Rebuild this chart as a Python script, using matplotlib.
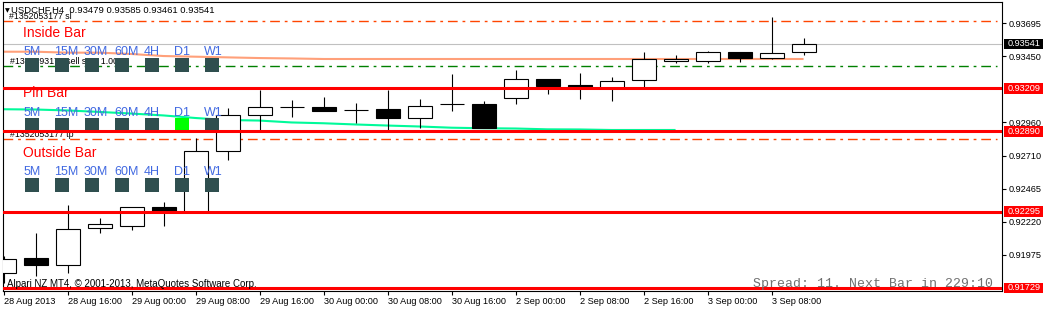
import matplotlib
matplotlib.use('Agg')
import matplotlib.pyplot as plt
import matplotlib.transforms as mtransforms
from matplotlib.patches import Rectangle

plt.rcParams['lines.scale_dashes'] = False

W, H = 1045, 309

# ---------------- data (USDCHF H4) ----------------
opens  = [0.91840, 0.91951, 0.91899, 0.92174, 0.92189, 0.92330, 0.92296, 0.92745,
          0.93012, 0.93069, 0.93069, 0.93052, 0.93057, 0.92988, 0.93092, 0.93094,
          0.93136, 0.93279, 0.93235, 0.93215, 0.93270, 0.93415, 0.93415, 0.93478,
          0.93435, 0.93479]
highs  = [0.91966, 0.92137, 0.92345, 0.92248, 0.92333, 0.92367, 0.92842, 0.93064,
          0.93198, 0.93124, 0.93146, 0.93099, 0.93198, 0.93131, 0.93317, 0.93116,
          0.93346, 0.93279, 0.93324, 0.93294, 0.93480, 0.93458, 0.93489, 0.93478,
          0.93737, 0.93585]
lows   = [0.91766, 0.91818, 0.91840, 0.92137, 0.92159, 0.92189, 0.92290, 0.92678,
          0.92901, 0.93000, 0.93044, 0.92955, 0.92897, 0.92916, 0.93044, 0.92916,
          0.93092, 0.93170, 0.93131, 0.93118, 0.93220, 0.93396, 0.93396, 0.93408,
          0.93430, 0.93461]
closes = [0.91944, 0.91899, 0.92166, 0.92204, 0.92330, 0.92300, 0.92745, 0.93012,
          0.93075, 0.93068, 0.93044, 0.93051, 0.92988, 0.93077, 0.93091, 0.92916,
          0.93277, 0.93230, 0.93213, 0.93265, 0.93426, 0.93426, 0.93478, 0.93435,
          0.93470, 0.93541]

salmon_line = [0.93482, 0.93482, 0.93475, 0.93475, 0.93465, 0.93450, 0.93445, 0.93440,
               0.93435, 0.93432, 0.93428, 0.93428, 0.93428, 0.93428, 0.93428, 0.93428,
               0.93428, 0.93428, 0.93428, 0.93428, 0.93428, 0.93428, 0.93428, 0.93428,
               0.93428, 0.93428]
green_line = [0.93055, 0.93053, 0.93046, 0.93035, 0.93023, 0.93009, 0.92990, 0.92975,
              0.92971, 0.92957, 0.92951, 0.92942, 0.92934, 0.92927, 0.92918, 0.92914,
              0.92912, 0.92906, 0.92905, 0.92901, 0.92901, 0.92901]

x_tick_bars = [0, 2, 4, 6, 8, 10, 12, 14, 16, 18, 20, 22, 24]
x_tick_labels = ['28 Aug 2013', '28 Aug 16:00', '29 Aug 00:00', '29 Aug 08:00',
                 '29 Aug 16:00', '30 Aug 00:00', '30 Aug 08:00', '30 Aug 16:00',
                 '2 Sep 00:00', '2 Sep 08:00', '2 Sep 16:00', '3 Sep 00:00',
                 '3 Sep 08:00']
y_ticks = [0.93695, 0.93450, 0.92960, 0.92710, 0.92465, 0.92220, 0.91975]

red_levels = [0.93209, 0.92890, 0.92295, 0.91729]
bid_price = 0.93541
sl_level = 0.93710
entry_level = 0.93374
tp_level = 0.92832

timeframes = ['5M', '15M', '30M', '60M', '4H', 'D1', 'W1']
pattern_names = ['Inside Bar', 'Pin Bar', 'Outside Bar']
pattern_signals = [[0, 0, 0, 0, 0, 0, 0],
                   [0, 0, 0, 0, 0, 1, 0],
                   [0, 0, 0, 0, 0, 0, 0]]

order_labels = ['#1352053177 sl', '#1352493177 sell stop 1.00', '#1352053177 tp']
copyright_text = 'Alpari NZ MT4, \u00a9 2001-2013, MetaQuotes Software Corp.'
spread_text = 'Spread: 11. Next Bar in 229:10'

# ---------------- figure ----------------
fig = plt.figure(figsize=(W / 100, H / 100), dpi=100)
fig.patch.set_facecolor('white')
ax = fig.add_axes([3 / W, 18 / H, 999 / W, 289 / H])
ax.set_facecolor('white')
ax.set_xlim(-0.016, 31.2)
ax.set_ylim(0.91706, 0.93851)

FONT = 'Liberation Sans'
px = mtransforms.Affine2D().scale(1, -1).translate(0, H)  # pixel coords, y from top

# horizontal lines
ax.axhline(bid_price, color='#C0C0C0', lw=0.8, zorder=1)
ax.axhline(sl_level, xmin=0, xmax=0.995, color='#FF4500', lw=1.0,
           dashes=(7, 3.5, 2, 3.5), zorder=1.5)
ax.axhline(tp_level, xmin=0, xmax=0.995, color='#FF4500', lw=1.0,
           dashes=(7, 3.5, 2, 3.5), zorder=1.5)
ax.axhline(entry_level, xmin=0, xmax=0.995, color='#008000', lw=1.0,
           dashes=(7, 3.5, 2, 3.5), zorder=1.5)

# indicator lines
ax.plot(range(len(salmon_line)), salmon_line, color='#FFA07A', lw=1.5, zorder=2,
        solid_capstyle='butt')
ax.plot(range(len(green_line)), green_line, color='#00FA9A', lw=1.5, zorder=2,
        solid_capstyle='butt')

# candles
bw = 0.75
for i, (o, h, l, c) in enumerate(zip(opens, highs, lows, closes)):
    ax.vlines(i, l, h, color='black', lw=0.8, zorder=3)
    lo, hi = min(o, c), max(o, c)
    if hi - lo < 0.00002:
        ax.hlines(o, i - bw / 2, i + bw / 2, color='black', lw=0.8, zorder=3.1)
    else:
        ax.add_patch(Rectangle((i - bw / 2, lo), bw, hi - lo,
                               facecolor='white' if c >= o else 'black',
                               edgecolor='black', lw=0.8, zorder=3.1))

# order labels
ax.text(9, 19, order_labels[0], transform=px, fontsize=6.3, family=FONT,
        color='black', zorder=3.5, clip_on=False)
ax.text(10, 64, order_labels[1], transform=px, fontsize=6.3, family=FONT,
        color='black', zorder=3.5, clip_on=False)
ax.text(10, 137, order_labels[2], transform=px, fontsize=6.3, family=FONT,
        color='black', zorder=3.5, clip_on=False)

# pattern panels
title_base = [37, 97, 157]
label_base = [55, 116, 175]
square_top = [58, 118, 178]
for r, name in enumerate(pattern_names):
    ax.text(23, title_base[r], name, transform=px, fontsize=10, family=FONT,
            color='#FF0000', zorder=4, clip_on=False)
    for j, tf in enumerate(timeframes):
        x0 = 25 + 30 * j
        ax.text(x0 - 1, label_base[r], tf, transform=px, fontsize=9, family=FONT,
                color='#4169E1', zorder=4, clip_on=False)
        col = '#00FF00' if pattern_signals[r][j] else '#2F4F4F'
        ax.add_patch(Rectangle((x0, square_top[r]), 14, 14, transform=px,
                               facecolor=col, edgecolor='none', zorder=4,
                               clip_on=False))

# red levels
for lv in red_levels:
    ax.axhline(lv, color='#FF0000', lw=2.2, zorder=5)

# header
hdr = 'USDCHF,H4  {:.5f} {:.5f} {:.5f} {:.5f}'.format(opens[-1], highs[-1], lows[-1], closes[-1])
ax.text(5, 12, '\u25bc', transform=px, fontsize=4.5, family='DejaVu Sans',
        color='black', zorder=6, clip_on=False)
ax.text(11, 13, hdr, transform=px, fontsize=6.8, family=FONT, color='black',
        zorder=6, clip_on=False)

# bottom texts
ax.text(7, 287, copyright_text, transform=px, fontsize=7, family=FONT,
        color='black', zorder=6, clip_on=False)
ax.text(753, 287, spread_text, transform=px, fontsize=9.5, family='Liberation Mono',
        color='#707070', zorder=6, clip_on=False)

# axes styling
for s in ax.spines.values():
    s.set_color('black')
    s.set_linewidth(0.8)
ax.yaxis.tick_right()
ax.set_yticks(y_ticks)
ax.set_yticklabels(['{:.5f}'.format(v) for v in y_ticks])
ax.set_xticks(x_tick_bars)
ax.set_xticklabels(x_tick_labels, ha='left')
ax.tick_params(axis='x', direction='out', length=3, width=0.8, pad=1.5, labelsize=6.6)
ax.tick_params(axis='y', direction='out', length=3, width=0.8, pad=1.5, labelsize=6.6)
for lab in ax.get_xticklabels() + ax.get_yticklabels():
    lab.set_family(FONT)

# price boxes on the right axis
blend = mtransforms.blended_transform_factory(ax.transAxes, ax.transData)
half = 5.2 * (0.93851 - 0.91706) / 289
for lv, fc in [(bid_price, 'black')] + [(v, '#FF0000') for v in red_levels]:
    ax.add_patch(Rectangle((1.002, lv - half), 0.039, 2 * half, transform=blend,
                           facecolor=fc, edgecolor='none', zorder=7, clip_on=False))
    ax.text(1.0053, lv, '{:.5f}'.format(lv), transform=blend, fontsize=6.6,
            family=FONT, color='white', va='center', ha='left', zorder=8,
            clip_on=False)

fig.savefig('out.png', dpi=100, facecolor='white')
